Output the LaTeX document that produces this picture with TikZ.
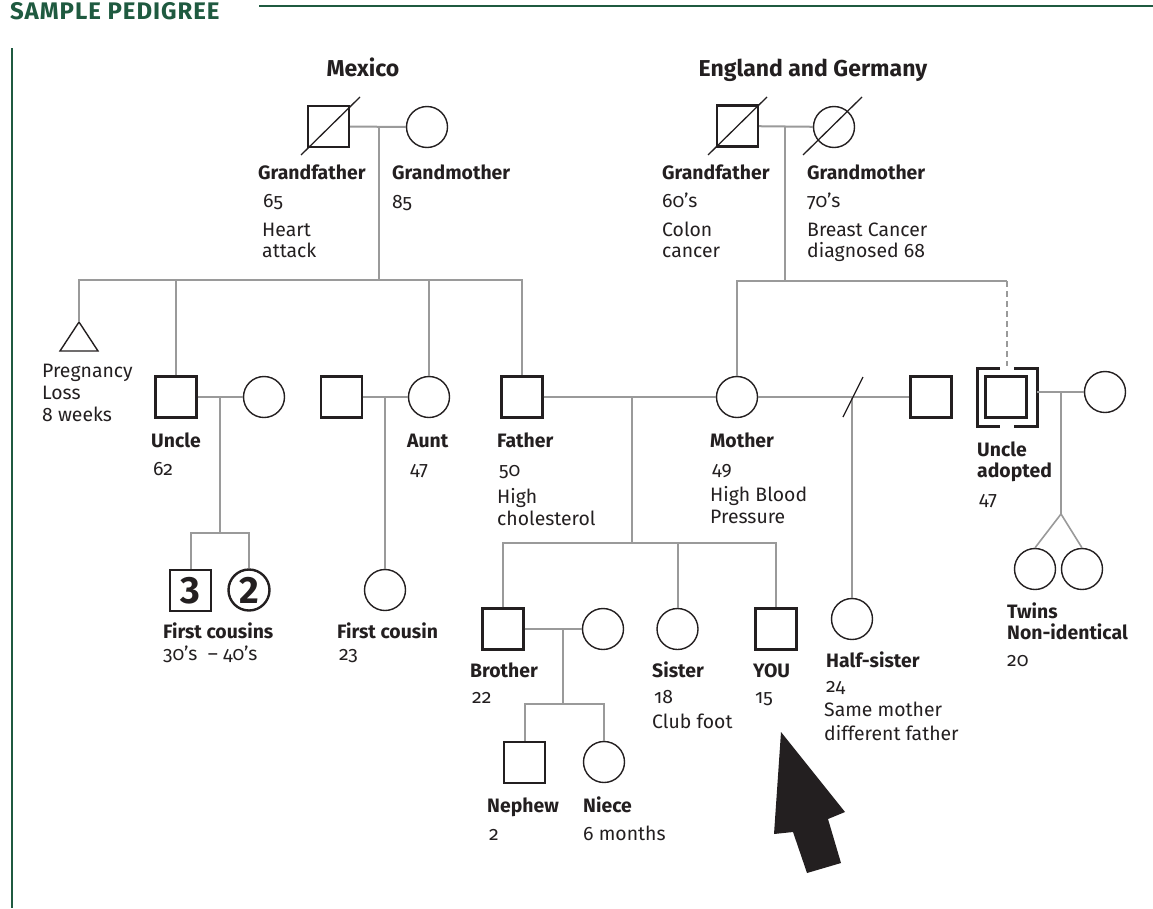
\documentclass[tikz,border=0pt]{standalone}
\usepackage{fontspec}
\setmainfont{Fira Sans}[Numbers=OldStyle]
\newfontfamily\lnumfont{Fira Sans}[Numbers=Lining]
\newfontfamily\hdfont{Fira Sans}[LetterSpace=4]
\definecolor{hdgreen}{HTML}{1F5A40}
\definecolor{lgray}{HTML}{9A9A9A}
\definecolor{ink}{HTML}{231F20}
\tikzset{
  tx/.style={anchor=base west, inner sep=0pt, text=ink, font=\fontsize{19.4}{22}\selectfont},
  bx/.style={tx, font=\fontsize{19.4}{22}\selectfont\bfseries},
  ttl/.style={anchor=base, inner sep=0pt, text=ink, font=\fontsize{23}{26}\selectfont\bfseries},
  male/.style={rectangle, draw=ink, line width=2.2pt, minimum size=41pt, inner sep=0pt},
  female/.style={circle, draw=ink, line width=1.4pt, minimum size=41pt, inner sep=0pt},
  conn/.style={draw=lgray, line width=2pt},
  cnum/.style={font=\fontsize{38}{38}\selectfont\lnumfont\bfseries, text=ink},
}
\begin{document}
\begin{tikzpicture}[x=1pt,y=-1pt]
\useasboundingbox (0,0) rectangle (1153,908);
% header
\node[anchor=base west, inner sep=0pt, text=hdgreen, font=\hdfont\fontsize{24}{26}\selectfont\bfseries] (hd) at (10,19) {SAMPLE PEDIGREE};
\coordinate (hl1) at (259,6);
\coordinate (hl2) at (1153,6);
\coordinate (vl1) at (12,48);
\coordinate (vl2) at (12,908);
\draw[hdgreen, line width=1.8pt] (hl1) -- (hl2);
\draw[hdgreen, line width=1.8pt] (vl1) -- (vl2);

% titles
\node[ttl] (mex) at (363,76) {Mexico};
\node[ttl] (eng) at (813,76) {England and Germany};

% ---------- people ----------
\node[male] (mgf) at (328.5,126.5) {};
\node[female] (mgm) at (427,127) {};
\node[male] (egf) at (737.5,126) {};
\node[female] (egm) at (834,127) {};

\node[male] (uncle) at (176,397) {};
\node[female] (uwife) at (264,397) {};
\node[male] (ahus) at (341.5,397) {};
\node[female] (aunt) at (429,397) {};
\node[male] (father) at (522,397) {};
\node[female] (mother) at (737,397) {};
\node[male] (hsfather) at (931,397) {};
\node[male] (uadopt) at (1006,397) {};
\node[female] (uawife) at (1105,392) {};

\node[male, cnum] (cous3) at (190.5,590.5) {3};
\node[female, cnum, line width=2.4pt] (cous2) at (249,590) {2};
\node[female] (cousin) at (385,590) {};

\node[male] (brother) at (503,629) {};
\node[female] (bwife) at (603,629) {};
\node[female] (sister) at (677.5,629) {};
\node[male] (you) at (776,629) {};
\node[female] (halfsis) at (852,619) {};

\node[male] (nephew) at (524.5,762.5) {};
\node[female] (niece) at (604,762) {};
\node[female] (twin1) at (1035,569) {};
\node[female] (twin2) at (1082,569) {};

% pregnancy loss triangle
\coordinate (preg) at (79,322);
\coordinate (pregL) at (60,351);
\coordinate (pregR) at (98,351);
\draw[ink, line width=1.4pt, line join=miter] (preg) -- (pregR) -- (pregL) -- cycle;

% deceased slashes
\coordinate (s1a) at (301,155); \coordinate (s1b) at (360,97);
\coordinate (s2a) at (708,155); \coordinate (s2b) at (767,97);
\coordinate (s3a) at (803,155); \coordinate (s3b) at (862,97);
\draw[ink, line width=1.3pt] (s1a) -- (s1b);
\draw[ink, line width=1.3pt] (s2a) -- (s2b);
\draw[ink, line width=1.3pt] (s3a) -- (s3b);

% adoption brackets
\coordinate (b1) at (1000,368); \coordinate (b2) at (977,368);
\coordinate (b3) at (977,426); \coordinate (b4) at (1000,426);
\coordinate (b5) at (1014,368); \coordinate (b6) at (1037,368);
\coordinate (b7) at (1037,426); \coordinate (b8) at (1014,426);
\draw[ink, line width=3pt] (b1) -- (b2) -- (b3) -- (b4);
\draw[ink, line width=3pt] (b5) -- (b6) -- (b7) -- (b8);

% ---------- connectors ----------
% Mexico
\coordinate (mc) at (379,127);
\coordinate (mS) at (379,280);
\draw[conn] (mgf) -- (mgm);
\draw[conn] (mc) -- (mS);
\draw[conn] (preg) |- (mS) -| (father.north);
\draw[conn] (uncle.north) -- (uncle.north |- mS);
\draw[conn] (aunt.north) -- (aunt.north |- mS);

% England
\coordinate (ec) at (785,126);
\coordinate (eS) at (785,281);
\coordinate (adS) at (1007,281);
\coordinate (adE) at (1007,366);
\draw[conn] (egf) -- (egm);
\draw[conn] (ec) -- (eS);
\draw[conn] (mother.north) |- (adS);
\draw[conn, dash pattern=on 6pt off 4pt] (adS) -- (adE);

% uncle family
\coordinate (uc) at (220,397);
\coordinate (uS) at (220,533);
\draw[conn] (uncle) -- (uwife);
\draw[conn] (uc) -- (uS);
\draw[conn] (cous3.north) |- (uS) -| (cous2.north);

% aunt family
\coordinate (ac) at (385,397);
\draw[conn] (ahus) -- (aunt);
\draw[conn] (ac) -- (cousin.north);

% parents
\coordinate (pc) at (632,397);
\coordinate (pS) at (632,543);
\draw[conn] (father) -- (mother);
\draw[conn] (pc) -- (pS);
\draw[conn] (brother.north) |- (pS) -| (you.north);
\draw[conn] (sister.north) -- (sister.north |- pS);

% mother second partner
\coordinate (hc) at (852,397);
\coordinate (hsl1) at (843,417); \coordinate (hsl2) at (863,377);
\draw[conn] (mother) -- (hsfather);
\draw[conn] (hc) -- (halfsis.north);
\draw[ink, line width=1.3pt] (hsl1) -- (hsl2);

% adopted uncle family
\coordinate (ua1) at (1037,392);
\coordinate (tc) at (1061,392);
\coordinate (tw) at (1061,514);
\draw[conn] (ua1) -- (uawife.west);
\draw[conn] (tc) -- (tw);
\draw[conn, line width=1.6pt] (tw) -- (twin1.north);
\draw[conn, line width=1.6pt] (tw) -- (twin2.north);

% brother family
\coordinate (brc) at (563,629);
\coordinate (brS) at (563,704);
\draw[conn] (brother) -- (bwife);
\draw[conn] (brc) -- (brS);
\draw[conn] (nephew.north) |- (brS) -| (niece.north);

% arrow
\coordinate (ar1) at (781,732); \coordinate (ar2) at (845,812);
\coordinate (ar3) at (828,819); \coordinate (ar4) at (841,863);
\coordinate (ar5) at (807,873); \coordinate (ar6) at (793,832);
\coordinate (ar7) at (774,834);
\fill[ink] (ar1) -- (ar2) -- (ar3) -- (ar4) -- (ar5) -- (ar6) -- (ar7) -- cycle;

% ---------- labels ----------
\node[bx] (l1) at (258,179) {Grandfather};
\node[tx] (l1a) at (263,207) {65};
\node[tx] (l1b) at (262,236) {Heart};
\node[tx] (l1c) at (262,257) {attack};
\node[bx] (l2) at (392,179) {Grandmother};
\node[tx] (l2a) at (392,208) {85};

\node[bx] (l3) at (662,179) {Grandfather};
\node[tx] (l3a) at (662,207) {60’s};
\node[tx] (l3b) at (662,236) {Colon};
\node[tx] (l3c) at (662,257) {cancer};
\node[bx] (l4) at (807,179) {Grandmother};
\node[tx] (l4a) at (807,207) {70’s};
\node[tx] (l4b) at (807,236) {Breast Cancer};
\node[tx] (l4c) at (807,257) {diagnosed 68};

\node[tx] (l5) at (42,377) {Pregnancy};
\node[tx] (l5a) at (42,399) {Loss};
\node[tx] (l5b) at (42,421) {8 weeks};

\node[bx] (l6) at (151,447) {Uncle};
\node[tx] (l6a) at (153,475) {62};
\node[bx] (l7) at (407,447) {Aunt};
\node[tx] (l7a) at (410,475) {47};
\node[bx] (l8) at (497,447) {Father};
\node[tx] (l8a) at (499,476) {50};
\node[tx] (l8b) at (497,503) {High};
\node[tx] (l8c) at (497,525) {cholesterol};
\node[bx] (l9) at (710,447) {Mother};
\node[tx] (l9a) at (712,475) {49};
\node[tx] (l9b) at (710,501) {High Blood};
\node[tx] (l9c) at (710,523) {Pressure};
\node[bx] (l10) at (977,456) {Uncle};
\node[bx] (l10a) at (977,477) {adopted};
\node[tx] (l10b) at (979,505) {47};

\node[bx] (l11) at (163,638) {First cousins};
\node[tx] (l11a) at (163,660) {30’s \;– 40’s};
\node[bx] (l12) at (337,638) {First cousin};
\node[tx] (l12a) at (339,660) {23};
\node[bx] (l13) at (1007,618) {Twins};
\node[bx] (l13a) at (1007,639) {Non-identical};
\node[tx] (l13b) at (1007,666) {20};

\node[bx] (l14) at (470,677) {Brother};
\node[tx] (l14a) at (472,703) {22};
\node[bx] (l15) at (652,677) {Sister};
\node[tx] (l15a) at (654,703) {18};
\node[tx] (l15b) at (652,728) {Club foot};
\node[bx] (l16) at (753,677) {YOU};
\node[tx] (l16a) at (755,703) {15};
\node[bx] (l17) at (826,667) {Half-sister};
\node[tx] (l17a) at (826,692) {24};
\node[tx] (l17b) at (824,716) {Same mother};
\node[tx] (l17c) at (824,740) {different father};

\node[bx] (l18) at (487,812) {Nephew};
\node[tx] (l18a) at (489,840) {2};
\node[bx] (l19) at (583,812) {Niece};
\node[tx] (l19a) at (583,840) {6 months};
\end{tikzpicture}
\end{document}
